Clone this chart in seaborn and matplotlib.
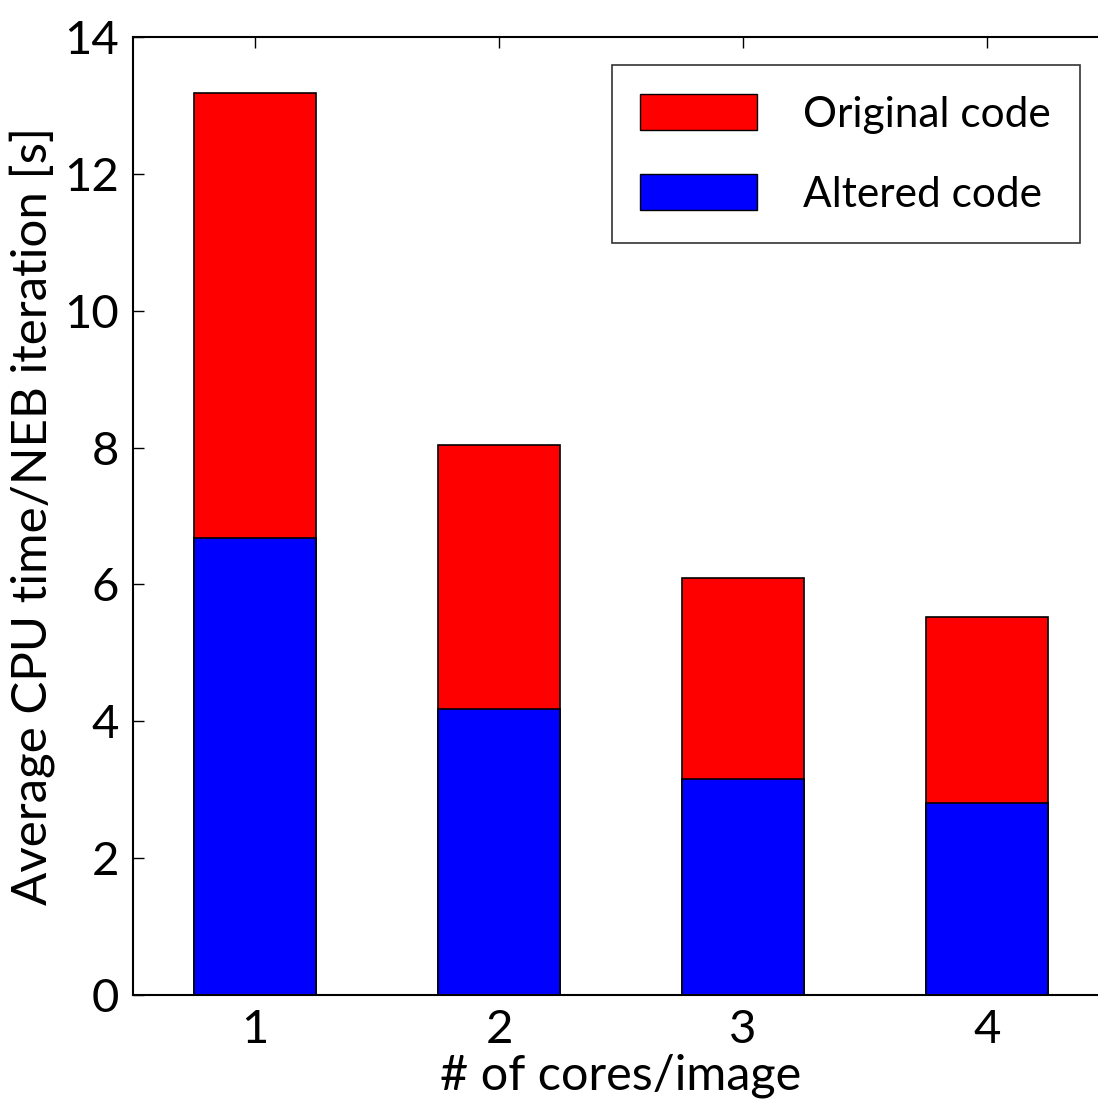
import matplotlib
matplotlib.use("Agg")
import matplotlib.pyplot as plt
import seaborn as sns
import pandas as pd
from matplotlib.patches import Patch

cores = [1, 2, 3, 4]
original = [13.18, 8.04, 6.09, 5.52]
altered = [6.68, 4.18, 3.16, 2.81]
series_labels = ["Original code", "Altered code"]
colors = ["#ff0000", "#0000ff"]

sns.set_theme(style="white")
plt.rcParams['font.family'] = ['Lato', 'DejaVu Sans']
plt.rcParams.update({"text.color": "black", "axes.labelcolor": "black",
                     "xtick.color": "black", "ytick.color": "black"})

fig = plt.figure(figsize=(10.98, 11.06), dpi=100)
ax = fig.add_axes([133/1098, 111/1106, 976/1098, 958/1106])

df_o = pd.DataFrame({"cores": cores, "time": original})
df_a = pd.DataFrame({"cores": cores, "time": altered})
sns.barplot(data=df_o, x="cores", y="time", native_scale=True, width=0.5,
            color=colors[0], saturation=1, edgecolor="black", linewidth=1.2, ax=ax)
sns.barplot(data=df_a, x="cores", y="time", native_scale=True, width=0.5,
            color=colors[1], saturation=1, edgecolor="black", linewidth=1.2, ax=ax)

ax.set_xlim(0.5, 4.5)
ax.set_ylim(0, 14)
ax.set_xticks(cores)
ax.set_xticklabels([str(c) for c in cores])
ax.set_yticks(range(0, 15, 2))
ax.tick_params(axis='both', which='both', direction='in', labelsize=34,
               length=8, width=1, top=True, right=True, bottom=True, left=True, pad=10,
               colors="black")
for s in ax.spines.values():
    s.set_visible(True)
    s.set_color("black")
    s.set_linewidth(1.5)
ax.set_xlabel("# of cores/image", fontsize=35, labelpad=2)
ax.set_ylabel("Average CPU time/NEB iteration [s]", fontsize=35.5, labelpad=7)
ax.grid(False)

handles = [Patch(facecolor=colors[0], edgecolor="black"),
           Patch(facecolor=colors[1], edgecolor="black")]
leg = ax.legend(handles, series_labels, loc="upper right",
                bbox_to_anchor=(1080/1098, 1 - 65/1106), bbox_transform=fig.transFigure,
                fontsize=30.5, handlelength=2.75, handleheight=0.95, handletextpad=1.1,
                labelspacing=0.95, borderpad=0.68, fancybox=False, frameon=True,
                borderaxespad=0)
leg.get_frame().set_edgecolor("black")
leg.get_frame().set_linewidth(1.2)

fig.savefig("out.png", dpi=100)
